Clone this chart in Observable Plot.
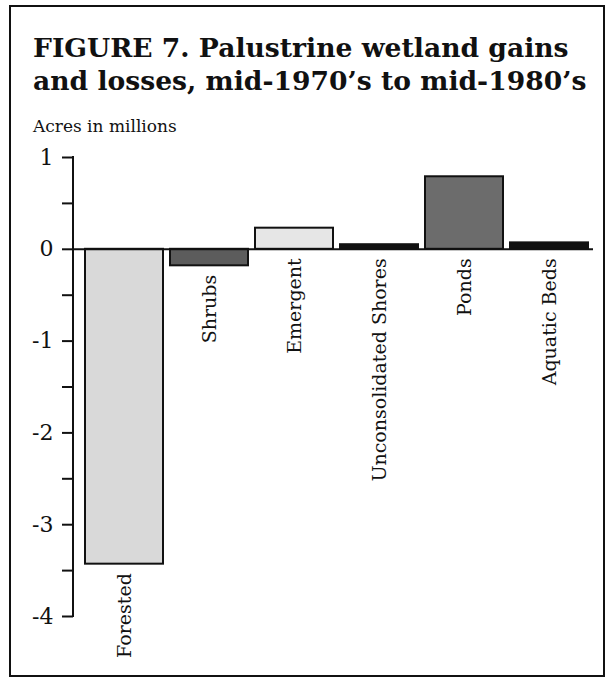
<!DOCTYPE html>
<html>
<head>
<meta charset="utf-8">
<script src="https://cdn.jsdelivr.net/npm/d3@7"></script>
<script src="https://cdn.jsdelivr.net/npm/@observablehq/plot@0.6"></script>
<style>
  html, body { margin: 0; padding: 0; background: #fff; }
  body { width: 613px; height: 678px; position: relative; overflow: hidden; font-family: "DejaVu Serif", serif; color: #111; }
  #frame { position: absolute; left: 9px; top: 5px; width: 596px; height: 672px; box-sizing: border-box; border: 2px solid #111; }
  #title { position: absolute; left: 33px; top: 31px; font-size: 26.6px; line-height: 33px; font-weight: bold; white-space: nowrap; }
  #subtitle { position: absolute; left: 33px; top: 116px; font-size: 17px; line-height: 20px; white-space: nowrap; }
  #chart { position: absolute; left: 0; top: 140px; }
</style>
</head>
<body>
<div id="frame"></div>
<div id="title">FIGURE 7. Palustrine wetland gains<br>and losses, mid-1970’s to mid-1980’s</div>
<div id="subtitle">Acres in millions</div>
<div id="chart"></div>
<script>
const categories = ["Forested", "Shrubs", "Emergent", "Unconsolidated Shores", "Ponds", "Aquatic Beds"];
const values = [-3.43, -0.18, 0.23, 0.05, 0.79, 0.07];
const fills = ["#d9d9d9", "#5c5c5c", "#e6e6e6", "#111111", "#6c6c6c", "#111111"];
const yTicks = [-4, -3.5, -3, -2.5, -2, -1.5, -1, -0.5, 0, 0.5, 1];

const data = categories.map((c, i) => ({category: c, value: values[i]}));

// vertical axis line drawn through the y scale, at the left margin
function axisLine(index, scales, values, dimensions) {
  const ns = "http://www.w3.org/2000/svg";
  const line = document.createElementNS(ns, "line");
  const x = dimensions.marginLeft;
  line.setAttribute("x1", x);
  line.setAttribute("x2", x);
  line.setAttribute("y1", scales.y(d3.max(yTicks)));
  line.setAttribute("y2", scales.y(d3.min(yTicks)));
  line.setAttribute("stroke", "#111");
  line.setAttribute("stroke-width", 2);
  line.setAttribute("stroke-linecap", "square");
  return line;
}

const chart = Plot.plot({
  width: 613,
  height: 538,
  marginTop: 17,
  marginBottom: 62,
  marginLeft: 73,
  marginRight: 20,
  style: {fontFamily: "DejaVu Serif", fontSize: "22px", color: "#111", background: "transparent", overflow: "visible"},
  x: {domain: categories, range: [83, 589], paddingInner: 0.085, paddingOuter: 0, axis: null},
  y: {domain: [-4, 1]},
  color: {domain: categories, range: fills},
  marks: [
    Plot.axisY({
      ticks: yTicks,
      tickSize: 11,
      tickPadding: 9,
      tickFormat: d => Number.isInteger(d) ? String(d) : "",
      strokeWidth: 2,
      label: null
    }),
    axisLine,
    Plot.barY(data, {x: "category", y: "value", fill: "category", stroke: "#111", strokeWidth: 2}),
    Plot.ruleY([0], {stroke: "#111", strokeWidth: 2}),
    Plot.text(data, {
      x: "category",
      y: d => Math.min(0, d.value),
      text: "category",
      rotate: -90,
      textAnchor: "end",
      lineAnchor: "middle",
      dy: 9,
      fontSize: 19,
      fill: "#111"
    })
  ]
});
document.getElementById("chart").appendChild(chart);
</script>
</body>
</html>
